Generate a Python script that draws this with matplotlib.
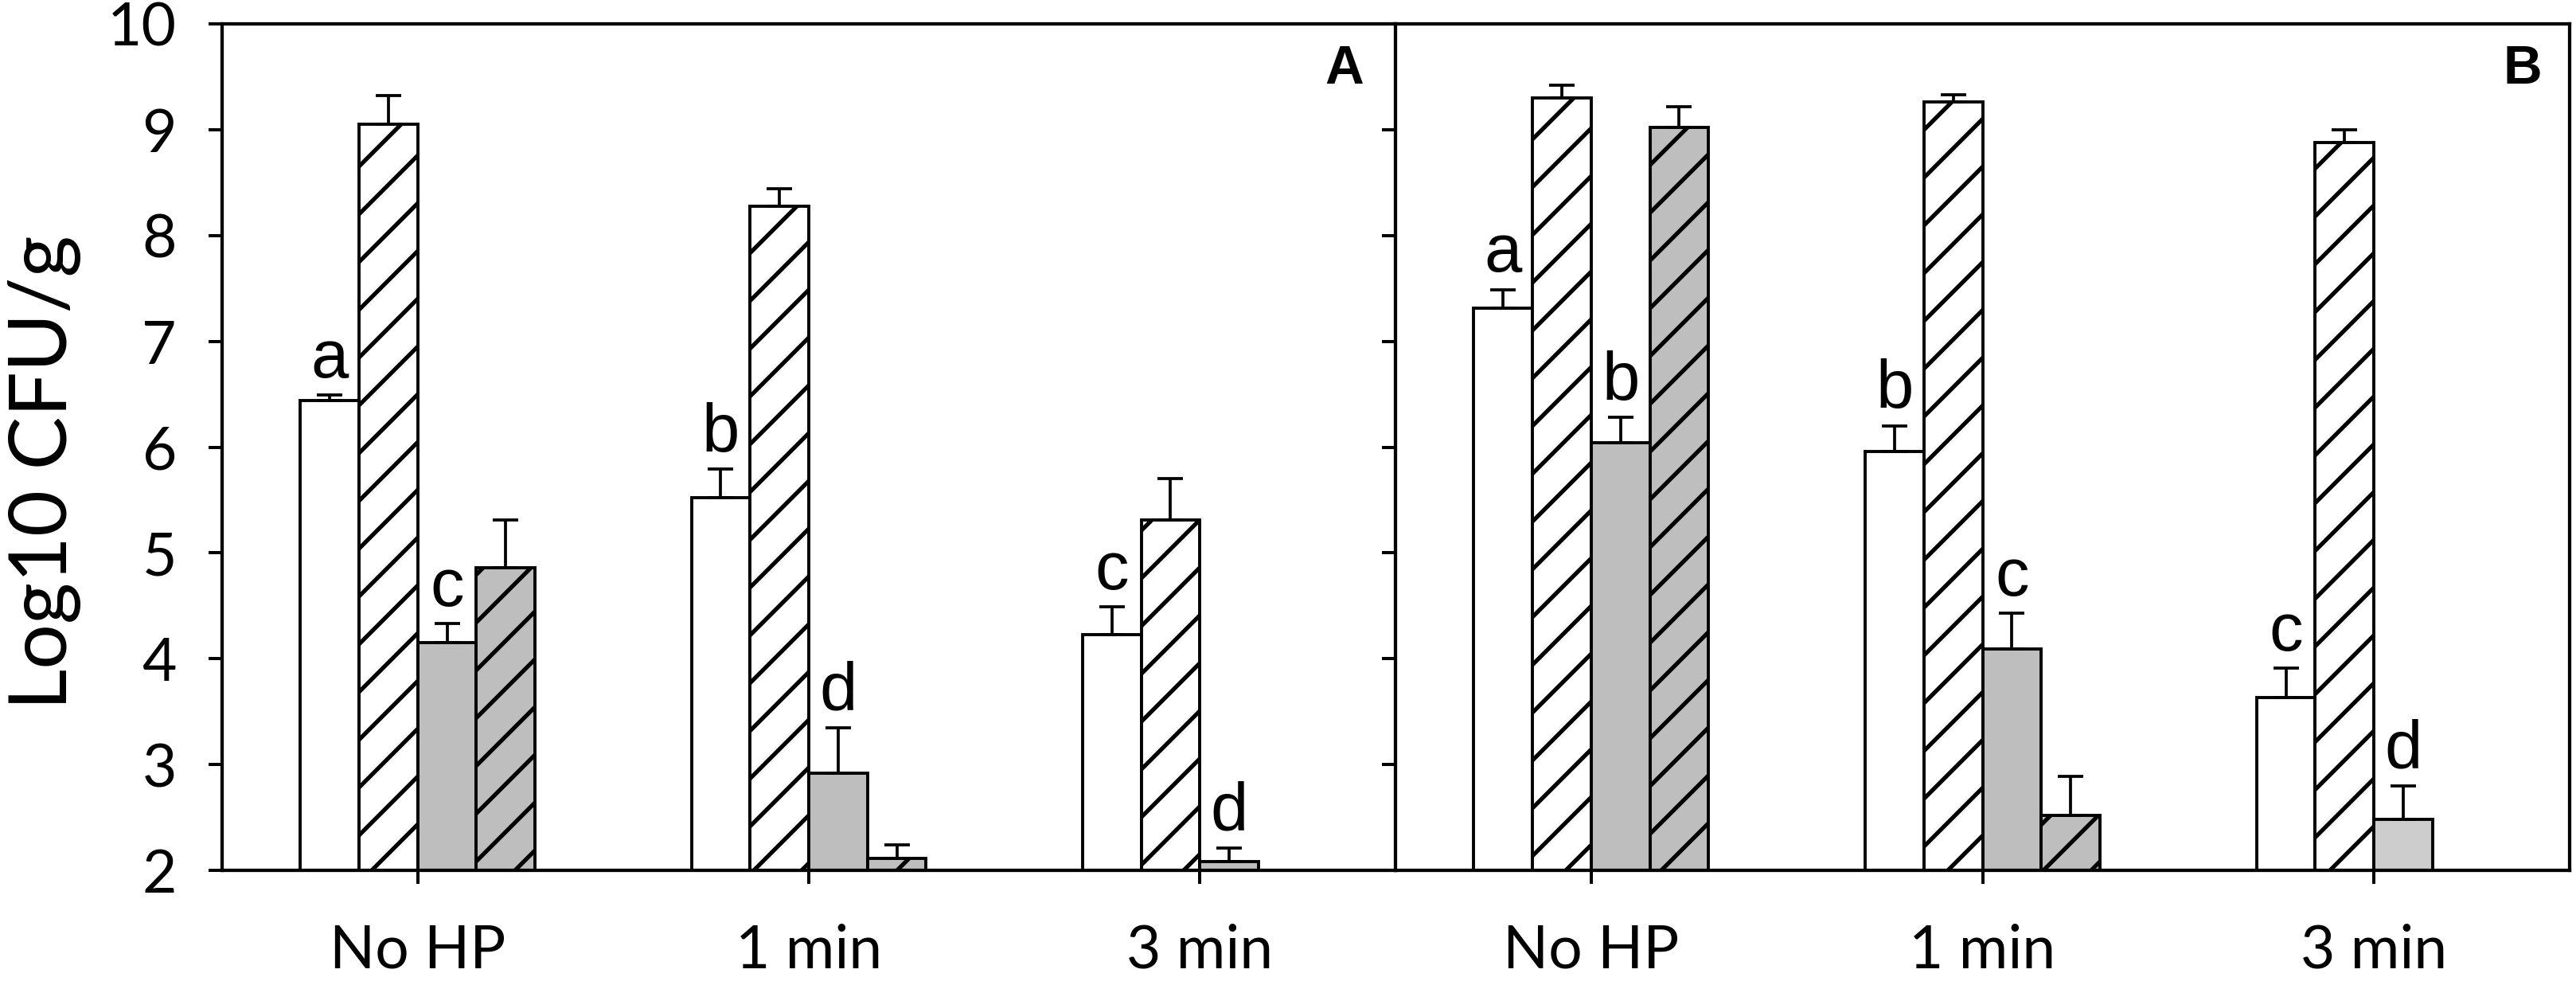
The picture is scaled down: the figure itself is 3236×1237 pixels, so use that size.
import numpy as np
import matplotlib
matplotlib.use('Agg')
import matplotlib.pyplot as plt

# ---------------- data ----------------
groups = ['No HP', '1 min', '3 min']
y_ticks = [2, 3, 4, 5, 6, 7, 8, 9, 10]

# Panel A
a_white = [6.44, 5.52, 4.23]
a_white_err = [0.05, 0.27, 0.26]
a_hatch = [9.05, 8.28, 5.31]
a_hatch_err = [0.27, 0.16, 0.39]
a_gray = [4.15, 2.92, 2.08]
a_gray_err = [0.18, 0.43, 0.13]
a_grayhatch = [4.86, 2.11, np.nan]
a_grayhatch_err = [0.45, 0.13, np.nan]
a_white_letters = ['a', 'b', 'c']
a_gray_letters = ['c', 'd', 'd']

# Panel B
b_white = [7.31, 5.96, 3.63]
b_white_err = [0.18, 0.24, 0.28]
b_hatch = [9.30, 9.26, 8.88]
b_hatch_err = [0.12, 0.07, 0.12]
b_gray = [6.04, 4.09, 2.48]
b_gray_err = [0.24, 0.34, 0.32]
b_grayhatch = [9.02, 2.52, np.nan]
b_grayhatch_err = [0.20, 0.37, np.nan]
b_white_letters = ['a', 'b', 'c']
b_gray_letters = ['b', 'c', 'd']

panel_labels = ['A', 'B']

# ---------------- style ----------------
DPI = 180
plt.rcParams['font.family'] = ['Lato', 'DejaVu Sans']
plt.rcParams['hatch.linewidth'] = 2.1
plt.rcParams['hatch.color'] = 'black'

GRAY = '#bebebe'
LIGHTGRAY = '#cdcdcd'
EDGE_LW = 1.55
SPINE_LW = 1.7
W = 0.15
HATCH = '/'

fig = plt.figure(figsize=(3236 / DPI, 1237 / DPI), dpi=DPI)
axA = fig.add_axes([279 / 3236, 1 - 1093 / 1237, (1753 - 279) / 3236, (1093 - 30) / 1237])
axB = fig.add_axes([1753 / 3236, 1 - 1093 / 1237, (3228 - 1753) / 3236, (1093 - 30) / 1237])

x = np.arange(len(groups))


def draw_series(ax, off, vals, errs, facecolors, hatch):
    vals = np.asarray(vals, float)
    errs = np.asarray(errs, float)
    m = ~np.isnan(vals)
    xs = x[m] + off * W
    fc = [c for c, k in zip(facecolors, m) if k]
    ax.bar(xs, vals[m], W, color=fc, edgecolor='black', linewidth=EDGE_LW,
           hatch=hatch, zorder=2)
    ax.errorbar(xs, vals[m], yerr=[np.zeros(m.sum()), errs[m]], fmt='none',
                ecolor='black', elinewidth=1.5, capsize=6.4, capthick=1.5, zorder=3)


def letters(ax, off, vals, errs, labs):
    for xi, v, e, l in zip(x, vals, errs, labs):
        ax.annotate(l, xy=(xi + off * W, v + e), xytext=(0, 9), textcoords='offset points',
                    ha='center', va='baseline', fontsize=34,
                    family=['Liberation Sans', 'DejaVu Sans'], zorder=4)


def panel(ax, white, white_err, hatch, hatch_err, gray, gray_err, gray_cols,
          ghatch, ghatch_err, wl, gl, label, label_dx):
    draw_series(ax, -1.5, white, white_err, ['white'] * 3, None)
    draw_series(ax, -0.5, hatch, hatch_err, ['white'] * 3, HATCH)
    draw_series(ax, 0.5, gray, gray_err, gray_cols, None)
    draw_series(ax, 1.5, ghatch, ghatch_err, [GRAY] * 3, HATCH)
    letters(ax, -1.5, white, white_err, wl)
    letters(ax, 0.5, gray, gray_err, gl)
    ax.set_xlim(-0.5, len(groups) - 0.5)
    ax.set_ylim(2, 10)
    ax.set_yticks(y_ticks)
    ax.set_xticks(x)
    ax.set_xticklabels(groups)
    for s in ax.spines.values():
        s.set_linewidth(SPINE_LW)
    ax.tick_params(axis='both', direction='out', length=6.8, width=1.6,
                   labelsize=30, colors='black')
    ax.tick_params(axis='x', pad=20)
    ax.tick_params(axis='y', pad=16)
    ax.annotate(label, xy=(1, 1), xycoords='axes fraction', xytext=(label_dx, -10),
                textcoords='offset points', ha='right', va='top', fontsize=27,
                fontweight='bold', family=['Liberation Sans', 'DejaVu Sans'])


panel(axA, a_white, a_white_err, a_hatch, a_hatch_err, a_gray, a_gray_err, [GRAY] * 3,
      a_grayhatch, a_grayhatch_err, a_white_letters, a_gray_letters, panel_labels[0], -16)
panel(axB, b_white, b_white_err, b_hatch, b_hatch_err, b_gray, b_gray_err,
      [GRAY, GRAY, LIGHTGRAY],
      b_grayhatch, b_grayhatch_err, b_white_letters, b_gray_letters, panel_labels[1], -14)

axA.spines['right'].set_visible(False)
axB.tick_params(axis='y', labelleft=False)

axA.set_ylabel('Log10 CFU/g', fontsize=40)
axA.yaxis.set_label_coords(-0.12, 0.47)

fig.savefig('out.png', dpi=DPI, facecolor='white')
